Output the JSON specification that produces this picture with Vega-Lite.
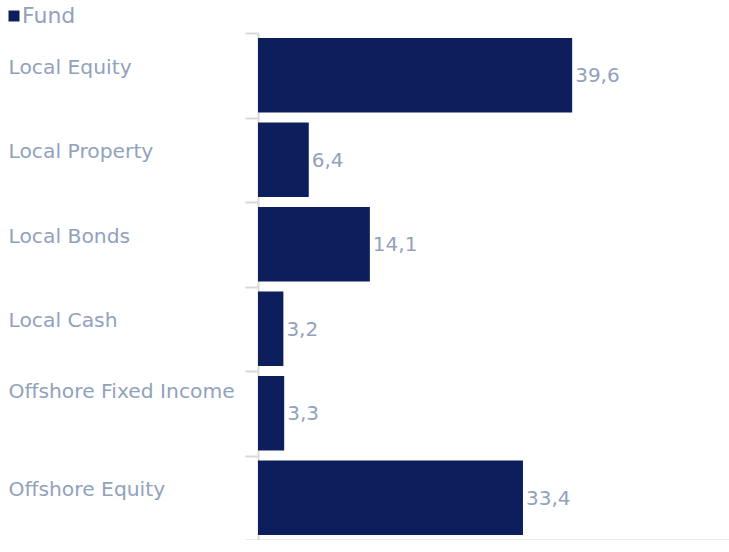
{
  "$schema": "https://vega.github.io/schema/vega-lite/v6.json",
  "autosize": {"type": "none"},
  "padding": {"left": 258, "top": 33, "right": 0, "bottom": 0},
  "width": 476,
  "height": 507,
  "config": {
    "view": {"stroke": null},
    "font": "DejaVu Sans",
    "locale": {"number": {"decimal": ",", "thousands": ".", "grouping": [3], "currency": ["", ""]}}
  },
  "data": {
    "values": [
      {"category": "Local Equity", "series": "Fund", "value": 39.6},
      {"category": "Local Property", "series": "Fund", "value": 6.4},
      {"category": "Local Bonds", "series": "Fund", "value": 14.1},
      {"category": "Local Cash", "series": "Fund", "value": 3.2},
      {"category": "Offshore Fixed Income", "series": "Fund", "value": 3.3},
      {"category": "Offshore Equity", "series": "Fund", "value": 33.4}
    ]
  },
  "encoding": {
    "y": {
      "field": "category",
      "type": "nominal",
      "sort": null,
      "scale": {"paddingInner": 0, "paddingOuter": 0},
      "axis": {
        "title": null,
        "tickBand": "extent",
        "domainColor": "#d9d9d9",
        "domainWidth": 2,
        "tickColor": "#d9d9d9",
        "tickWidth": 2,
        "tickSize": 13,
        "labelAlign": "left",
        "labelBaseline": "middle",
        "labelPadding": 237,
        "labelOffset": {"condition": {"test": "datum.value === 'Offshore Fixed Income'", "value": -22}, "value": -8},
        "labelFont": "DejaVu Sans",
        "labelFontSize": 20.3,
        "labelColor": "#91a2bd",
        "labelLimit": 400
      }
    },
    "x": {
      "field": "value",
      "type": "quantitative",
      "scale": {"domain": [0, 60], "nice": false},
      "axis": {
        "title": null,
        "values": [0, 20, 40, 60],
        "labels": false,
        "grid": false,
        "domainColor": "#d9d9d9",
        "domainWidth": 2,
        "tickColor": "#d9d9d9",
        "tickWidth": 2,
        "tickSize": 12
      }
    }
  },
  "layer": [
    {
      "mark": {"type": "bar", "height": {"band": 0.88}},
      "encoding": {
        "color": {
          "field": "series",
          "type": "nominal",
          "scale": {"range": ["#0c1f5c"]},
          "legend": {
            "title": null,
            "orient": "none",
            "legendX": -255,
            "legendY": -28,
            "padding": 0,
            "symbolType": "square",
            "symbolSize": 121,
            "symbolStrokeWidth": 0,
            "labelFont": "DejaVu Sans",
            "labelFontSize": 22,
            "labelColor": "#91a2bd",
            "labelOffset": -3
          }
        }
      }
    },
    {
      "mark": {"type": "text", "align": "left", "baseline": "middle", "dx": 3, "dy": 1, "fontSize": 20, "color": "#91a2bd", "font": "DejaVu Sans"},
      "encoding": {
        "text": {"field": "value", "type": "quantitative", "format": ".1f"}
      }
    }
  ]
}
